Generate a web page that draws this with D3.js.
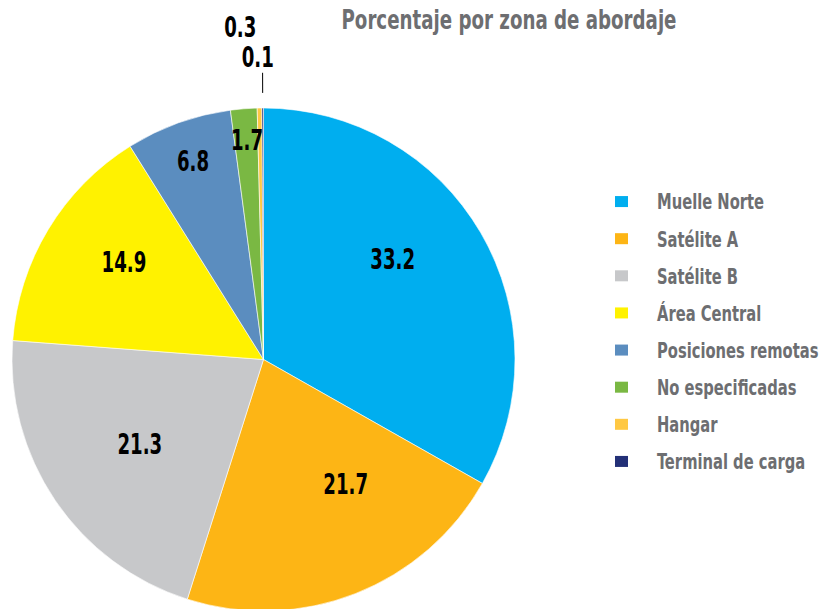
<!DOCTYPE html>
<html>
<head>
<meta charset="utf-8">
<script src="https://cdn.jsdelivr.net/npm/d3@7"></script>
<style>
  body { margin: 0; background: #fff; }
  svg { display: block; }
</style>
</head>
<body>
<div id="chart"></div>
<script>
// ---- data ----
const categories = ["Muelle Norte", "Satélite A", "Satélite B", "Área Central",
  "Posiciones remotas", "No especificadas", "Hangar", "Terminal de carga"];
const values = [33.2, 21.7, 21.3, 14.9, 6.8, 1.7, 0.3, 0.1];
const colors = ["#00aeef", "#fdb515", "#c7c8ca", "#fff200",
  "#5b8dbf", "#7ab843", "#ffc843", "#233077"];
const title = "Porcentaje por zona de abordaje";

// label placement (fraction of radius, angle nudge in degrees)
const labelRadius = [0.652, 0.592, 0.596, 0.676, 0.839, 0.875, 1.325, 1.203];
const labelNudge = [-7.8, -12.1, -0.4, 3.7, 0.3, 0.2, -3.1, -0.9];

const width = 822;
const height = 609;
const cx = 263.5, cy = 359.5, radius = 251.5;
const font = "'DejaVu Sans Condensed', 'Liberation Sans Narrow', sans-serif";

const svg = d3.select("#chart")
  .append("svg")
  .attr("width", width)
  .attr("height", height);

const rows = categories.map((c, i) => ({ name: c, value: values[i], color: colors[i], i }));

const pie = d3.pie().sort(null).value((d) => d.value);
const arcs = pie(rows);
const arc = d3.arc().innerRadius(0).outerRadius(radius);

const g = svg.append("g").attr("transform", `translate(${cx},${cy})`);

g.selectAll("path.slice")
  .data(arcs)
  .join("path")
  .attr("class", "slice")
  .attr("d", arc)
  .attr("fill", (d) => d.data.color)
  .attr("stroke", "#fff")
  .attr("stroke-width", 0.6);

function polar(a, r) {
  return [Math.sin(a) * r, -Math.cos(a) * r];
}

// condensed look: squeeze the text horizontally
g.selectAll("text.label")
  .data(arcs)
  .join("text")
  .attr("class", "label")
  .attr("transform", (d) => {
    const a = (d.startAngle + d.endAngle) / 2 + labelNudge[d.index] * Math.PI / 180;
    const [x, y] = polar(a, labelRadius[d.index] * radius);
    return `translate(${x},${y}) scale(0.72,1)`;
  })
  .attr("text-anchor", "middle")
  .attr("dy", "0.36em")
  .attr("font-family", font)
  .attr("font-weight", "bold")
  .attr("font-size", "28px")
  .attr("fill", "#000")
  .text((d) => d3.format(".1f")(d.data.value));

// leader line for the smallest slice
const last = arcs[arcs.length - 1];
const la = (last.startAngle + last.endAngle) / 2;
const p1 = polar(la, radius * 1.06);
const p2 = polar(la, radius * 1.14);
g.append("line")
  .attr("x1", p1[0]).attr("y1", p1[1])
  .attr("x2", p2[0]).attr("y2", p2[1])
  .attr("stroke", "#000")
  .attr("stroke-width", 1);

// title
svg.append("text")
  .attr("transform", "translate(509,29) scale(0.75,1)")
  .attr("text-anchor", "middle")
  .attr("font-family", font)
  .attr("font-weight", "bold")
  .attr("font-size", "27px")
  .attr("fill", "#6d6e71")
  .text(title);

// legend
const y = d3.scaleBand().domain(categories).range([183, 480]);

const legend = svg.append("g");
const entries = legend.selectAll("g")
  .data(rows)
  .join("g")
  .attr("transform", (d) => `translate(615, ${y(d.name) + y.bandwidth() / 2})`);

entries.append("rect")
  .attr("x", 0)
  .attr("y", -5.5)
  .attr("width", 13)
  .attr("height", 11)
  .attr("fill", (d) => d.color);

entries.append("text")
  .attr("transform", "translate(42,0) scale(0.745,1)")
  .attr("dy", "0.36em")
  .attr("font-family", font)
  .attr("font-weight", "bold")
  .attr("font-size", "22px")
  .attr("fill", "#6d6e71")
  .text((d) => d.name);
</script>
</body>
</html>
